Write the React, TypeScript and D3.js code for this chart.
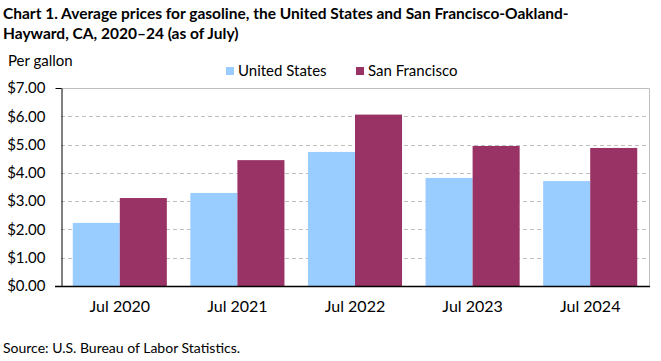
import { useEffect, useRef } from "react";
import * as d3 from "d3";

const categories = ["Jul 2020", "Jul 2021", "Jul 2022", "Jul 2023", "Jul 2024"];
const seriesNames = ["United States", "San Francisco"];
const usPrices = [2.23, 3.29, 4.74, 3.82, 3.71];
const sfPrices = [3.11, 4.45, 6.06, 4.95, 4.88];
const yTicks = [0, 1, 2, 3, 4, 5, 6, 7];
const colors = ["#99ccff", "#993366"];

const FONT = "Lato, 'Noto Sans', sans-serif";

export default function App() {
  const svgRef = useRef<SVGSVGElement | null>(null);
  const width = 661;
  const height = 361;

  useEffect(() => {
    const margin = { top: 88, right: 12, bottom: 75, left: 61 };
    const svg = d3.select(svgRef.current);
    svg.selectAll("*").remove();

    const x0 = d3
      .scaleBand<string>()
      .domain(categories)
      .range([margin.left, width - margin.right])
      .paddingInner(0.2)
      .paddingOuter(0.1);
    const x1 = d3
      .scaleBand<string>()
      .domain(seriesNames)
      .range([0, x0.bandwidth()]);
    const y = d3
      .scaleLinear()
      .domain([0, 7])
      .range([height - margin.bottom, margin.top]);

    // title
    const title = svg
      .append("text")
      .attr("x", 3)
      .attr("y", 19)
      .style("font-family", FONT)
      .style("font-weight", "bold")
      .style("font-size", "15.5px")
      .style("fill", "#000");
    title.append("tspan").attr("x", 3).text("Chart 1. Average prices for gasoline, the United States and San Francisco-Oakland-");
    title.append("tspan").attr("x", 3).attr("dy", 20).text("Hayward, CA, 2020\u201324 (as of July)");

    svg
      .append("text")
      .attr("x", 8)
      .attr("y", 66)
      .style("font-family", FONT)
      .style("font-size", "15px")
      .text("Per gallon");

    // gridlines
    svg
      .append("g")
      .selectAll("line")
      .data(yTicks.filter((d) => d > 0 && d < 7))
      .join("line")
      .attr("x1", margin.left)
      .attr("x2", width - margin.right)
      .attr("y1", (d) => Math.round(y(d)) + 0.5)
      .attr("y2", (d) => Math.round(y(d)) + 0.5)
      .attr("stroke", "#bfbfbf")
      .attr("stroke-dasharray", "4,3");

    // plot border (top + right)
    svg
      .append("path")
      .attr(
        "d",
        `M${margin.left},${Math.round(y(7)) + 0.5}H${width - margin.right + 0.5}V${height - margin.bottom}`
      )
      .attr("fill", "none")
      .attr("stroke", "#bfbfbf");

    // bars
    const groups = svg
      .append("g")
      .selectAll("g")
      .data(categories)
      .join("g")
      .attr("transform", (d) => `translate(${x0(d)},0)`);
    groups
      .selectAll("rect")
      .data((_, i) => [
        { key: seriesNames[0], v: usPrices[i], c: colors[0] },
        { key: seriesNames[1], v: sfPrices[i], c: colors[1] },
      ])
      .join("rect")
      .attr("x", (d) => x1(d.key)!)
      .attr("width", x1.bandwidth())
      .attr("y", (d) => y(d.v))
      .attr("height", (d) => y(0) - y(d.v))
      .attr("fill", (d) => d.c);

    // y axis
    const yAxis = svg
      .append("g")
      .attr("transform", `translate(${margin.left + 0.5},0)`)
      .call(
        d3
          .axisLeft(y)
          .tickValues(yTicks)
          .tickSize(0)
          .tickPadding(16)
          .tickFormat((d) => d3.format("$.2f")(d as number))
      );
    yAxis.select(".domain").attr("stroke", "#000");
    yAxis
      .selectAll("text")
      .style("font-family", FONT)
      .style("font-size", "15px")
      .style("fill", "#000");
    yAxis
      .append("line")
      .attr("x1", -6)
      .attr("x2", 0)
      .attr("y1", Math.round(y(7)) + 0.5)
      .attr("y2", Math.round(y(7)) + 0.5)
      .attr("stroke", "#000");

    // x axis
    svg
      .append("line")
      .attr("x1", margin.left - 6)
      .attr("x2", width - margin.right + 1)
      .attr("y1", y(0) + 0.5)
      .attr("y2", y(0) + 0.5)
      .attr("stroke", "#000")
      .attr("stroke-width", 1.5);
    svg
      .append("g")
      .selectAll("text")
      .data(categories)
      .join("text")
      .attr("x", (d) => x0(d)! + x0.bandwidth() / 2)
      .attr("y", y(0) + 26)
      .attr("text-anchor", "middle")
      .style("font-family", FONT)
      .style("font-size", "16px")
      .text((d) => d);

    // legend
    const legendX = [226, 356];
    const legend = svg
      .append("g")
      .selectAll("g")
      .data(seriesNames)
      .join("g")
      .attr("transform", (_, i) => `translate(${legendX[i]},67)`);
    legend
      .append("rect")
      .attr("width", 8)
      .attr("height", 8)
      .attr("fill", (_, i) => colors[i]);
    legend
      .append("text")
      .attr("x", 12)
      .attr("y", 9)
      .style("font-family", FONT)
      .style("font-size", "15px")
      .text((d) => d);

    svg
      .append("text")
      .attr("x", 3)
      .attr("y", 353)
      .style("font-family", FONT)
      .style("font-size", "14px")
      .text("Source: U.S. Bureau of Labor Statistics.");
  }, []);

  return (
    <svg
      ref={svgRef}
      width={width}
      height={height}
      style={{ position: "absolute", left: 0, top: 0, backgroundColor: "#ffffff" }}
    />
  );
}
